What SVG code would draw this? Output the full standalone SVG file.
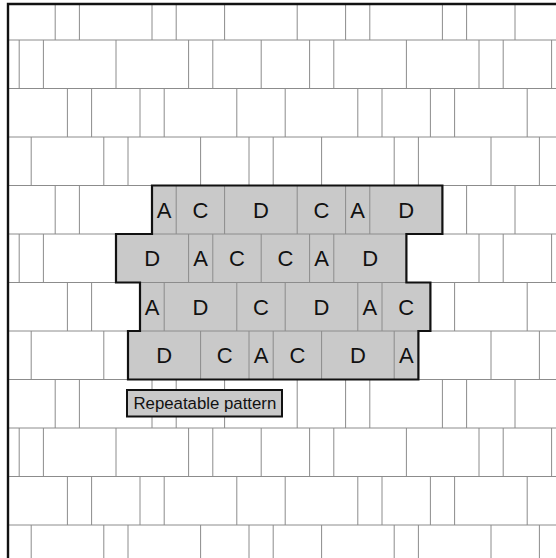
<svg xmlns="http://www.w3.org/2000/svg" width="556" height="558" viewBox="0 0 556 558">
<style>
.j{stroke:#8c8c8c;stroke-width:1;fill:none}
.o{stroke:#111;stroke-width:2.2;fill:none;stroke-linejoin:miter}
.f{fill:#c9c9c9;stroke:none}
.t{font-family:"Liberation Sans",Arial,sans-serif;font-size:22px;fill:#111;text-anchor:middle}
.l{font-family:"Liberation Sans",Arial,sans-serif;font-size:16.8px;fill:#111}
</style>
<rect x="0" y="0" width="556" height="558" fill="#fff"/>
<g id="wall">
<path class="j" d="M8 40H556M8 88.5H556M8 137H556M8 185.5H556M8 234H556M8 282.5H556M8 331H556M8 379.5H556M8 428H556M8 476.5H556M8 525H556"/>
<!-- row 0 (type 0) -->
<path class="j" d="M55.2 4V40M79.4 4V40M152 4V40M176.2 4V40M224.6 4V40M297.2 4V40M345.6 4V40M369.8 4V40M442.4 4V40M466.6 4V40M515 4V40"/>
<!-- row 1 (type 1) -->
<path class="j" d="M19.2 40V88.5M43.4 40V88.5M116 40V88.5M188.6 40V88.5M212.8 40V88.5M261.2 40V88.5M309.6 40V88.5M333.8 40V88.5M406.4 40V88.5M479 40V88.5M503.2 40V88.5M551.6 40V88.5"/>
<!-- row 2 (type 2) -->
<path class="j" d="M67.4 88.5V137M91.6 88.5V137M140 88.5V137M164.2 88.5V137M236.8 88.5V137M285.2 88.5V137M357.8 88.5V137M382 88.5V137M430.4 88.5V137M454.6 88.5V137M527.2 88.5V137"/>
<!-- row 3 (type 3) -->
<path class="j" d="M31.2 137V185.5M103.8 137V185.5M128 137V185.5M200.6 137V185.5M249 137V185.5M273.2 137V185.5M321.6 137V185.5M394.2 137V185.5M418.4 137V185.5M491 137V185.5M539.4 137V185.5"/>
<!-- row 4 (type 0) -->
<path class="j" d="M55.2 185.5V234M79.4 185.5V234M466.6 185.5V234M515 185.5V234"/>
<!-- row 5 (type 1) -->
<path class="j" d="M19.2 234V282.5M43.4 234V282.5M479 234V282.5M503.2 234V282.5M551.6 234V282.5"/>
<!-- row 6 (type 2) -->
<path class="j" d="M67.4 282.5V331M91.6 282.5V331M454.6 282.5V331M527.2 282.5V331"/>
<!-- row 7 (type 3) -->
<path class="j" d="M31.2 331V379.5M103.8 331V379.5M491 331V379.5M539.4 331V379.5"/>
<!-- row 8 (type 0) -->
<path class="j" d="M55.2 379.5V428M79.4 379.5V428M152 379.5V428M176.2 379.5V428M224.6 379.5V428M297.2 379.5V428M345.6 379.5V428M369.8 379.5V428M442.4 379.5V428M466.6 379.5V428M515 379.5V428"/>
<!-- row 9 (type 1) -->
<path class="j" d="M19.2 428V476.5M43.4 428V476.5M116 428V476.5M188.6 428V476.5M212.8 428V476.5M261.2 428V476.5M309.6 428V476.5M333.8 428V476.5M406.4 428V476.5M479 428V476.5M503.2 428V476.5M551.6 428V476.5"/>
<!-- row 10 (type 2) -->
<path class="j" d="M67.4 476.5V525M91.6 476.5V525M140 476.5V525M164.2 476.5V525M236.8 476.5V525M285.2 476.5V525M357.8 476.5V525M382 476.5V525M430.4 476.5V525M454.6 476.5V525M527.2 476.5V525"/>
<!-- row 11 (type 3) -->
<path class="j" d="M31.2 525V558M103.8 525V558M128 525V558M200.6 525V558M249 525V558M273.2 525V558M321.6 525V558M394.2 525V558M418.4 525V558M491 525V558M539.4 525V558"/>
</g>
<g id="border">
<path d="M6.8 4H556M8 3V558" stroke="#111" stroke-width="2.4" fill="none"/>
</g>
<g id="pattern">
<polygon class="f" points="152,185.5 442.4,185.5 442.4,234 406.4,234 406.4,282.5 430.4,282.5 430.4,331 418.4,331 418.4,379.5 128,379.5 128,331 140,331 140,282.5 116,282.5 116,234 152,234"/>
<path class="j" d="M152 234H406.4M140 282.5H406.4M140 331H418.4"/>
<path class="j" d="M176.2 185.5V234M224.6 185.5V234M297.2 185.5V234M345.6 185.5V234M369.8 185.5V234"/>
<path class="j" d="M188.6 234V282.5M212.8 234V282.5M261.2 234V282.5M309.6 234V282.5M333.8 234V282.5"/>
<path class="j" d="M164.2 282.5V331M236.8 282.5V331M285.2 282.5V331M357.8 282.5V331M382 282.5V331"/>
<path class="j" d="M200.6 331V379.5M249 331V379.5M273.2 331V379.5M321.6 331V379.5M394.2 331V379.5"/>
<polygon class="o" points="152,185.5 442.4,185.5 442.4,234 406.4,234 406.4,282.5 430.4,282.5 430.4,331 418.4,331 418.4,379.5 128,379.5 128,331 140,331 140,282.5 116,282.5 116,234 152,234"/>
<g id="row1-letters">
<text class="t" x="164.1" y="217.6">A</text>
<text class="t" x="200.4" y="217.6">C</text>
<text class="t" x="260.9" y="217.6">D</text>
<text class="t" x="321.4" y="217.6">C</text>
<text class="t" x="357.7" y="217.6">A</text>
<text class="t" x="406.1" y="217.6">D</text>
</g>
<g id="row2-letters">
<text class="t" x="152.3" y="266.1">D</text>
<text class="t" x="200.7" y="266.1">A</text>
<text class="t" x="237" y="266.1">C</text>
<text class="t" x="285.4" y="266.1">C</text>
<text class="t" x="321.7" y="266.1">A</text>
<text class="t" x="370.1" y="266.1">D</text>
</g>
<g id="row3-letters">
<text class="t" x="152.1" y="314.6">A</text>
<text class="t" x="200.5" y="314.6">D</text>
<text class="t" x="261" y="314.6">C</text>
<text class="t" x="321.5" y="314.6">D</text>
<text class="t" x="369.9" y="314.6">A</text>
<text class="t" x="406.2" y="314.6">C</text>
</g>
<g id="row4-letters">
<text class="t" x="164.3" y="363.1">D</text>
<text class="t" x="224.8" y="363.1">C</text>
<text class="t" x="261.1" y="363.1">A</text>
<text class="t" x="297.4" y="363.1">C</text>
<text class="t" x="357.9" y="363.1">D</text>
<text class="t" x="406.3" y="363.1">A</text>
</g>
</g>
<g id="label">
<rect x="127" y="390" width="155" height="26.5" fill="#c9c9c9" stroke="#111" stroke-width="2"/>
<text class="l" x="133.5" y="409">Repeatable pattern</text>
</g>
</svg>
